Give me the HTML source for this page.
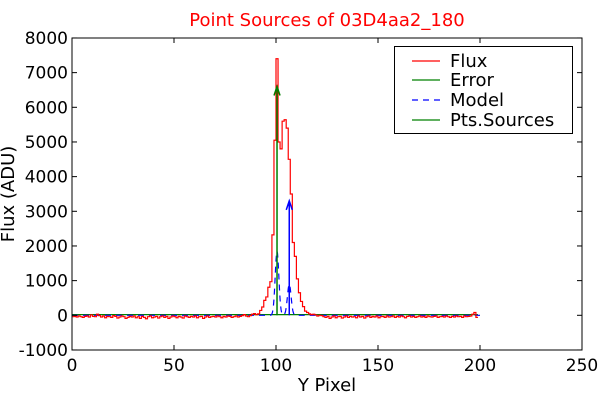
<!DOCTYPE html>
<html><head><meta charset="utf-8"><style>
body{margin:0;background:#fff}svg{display:block}
text{font-family:"DejaVu Sans","Liberation Sans",sans-serif}
</style></head><body>
<svg id="chart" width="600" height="400">
<text x="327" y="26" fill="#ff0000" font-size="18" text-anchor="middle">Point Sources of 03D4aa2_180</text>
<g id="plot"></g>
<rect x="72" y="38" width="510" height="312" fill="none" stroke="#000" stroke-width="1"/>
<g id="axes"></g>
<text x="327" y="391" font-size="18" text-anchor="middle">Y Pixel</text>
<text transform="translate(14,194) rotate(-90)" font-size="18" text-anchor="middle">Flux (ADU)</text>
<g>
<rect x="394.5" y="46.5" width="178" height="87" fill="#fff" stroke="#000"/>
<line x1="412" y1="61" x2="440" y2="61" stroke="#ff0000" stroke-width="1.2"/>
<text x="450" y="67" font-size="18">Flux</text>
<line x1="412" y1="80" x2="440" y2="80" stroke="#008000" stroke-width="1.2"/>
<text x="450" y="86" font-size="18">Error</text>
<line x1="412" y1="100" x2="440" y2="100" stroke="#0000ff" stroke-width="1.2" stroke-dasharray="6,5"/>
<text x="450" y="106" font-size="18">Model</text>
<line x1="412" y1="120" x2="440" y2="120" stroke="#008000" stroke-width="1.2"/>
<text x="450" y="126" font-size="18">Pts.Sources</text>
</g>
</svg>
<script>
const xTicks=[0,50,100,150,200,250];
const yTicks=[-1000,0,1000,2000,3000,4000,5000,6000,7000,8000];
const fluxNoise=[-40,-30,-50,-20,-40,-60,-30,-20,-50,10,-30,-40,30,-10,-50,-20,-70,-30,-40,-60,-10,-30,-80,-50,-20,-40,-90,-60,-30,-50,-20,-70,-40,-90,-30,-60,-100,-40,-20,-70,-50,-30,-80,-40,-20,-60,-30,-90,-50,-20,-40,-70,-30,-50,-80,-20,-40,-60,-30,-50,-20,-70,-40,-30,-90,-50,-20,-60,-40,-30,-50,-20,-40,-70,-30,-50,-20,-30,-60,-40,-20,-50,-30,-10,20,-20,-40,-10,30,50,20,40];
const fluxPeak=[140,240,430,530,810,970,2320,5050,7400,5000,4800,5600,5640,5400,4500,3500,2100,1700,1050,650,400,250,120,80];
const fluxTail=[40,20,30,10,-20,0,-10,-40,-60,-30,-90,-50,-20,-70,-40,-30,-80,-50,-20,-60,-30,-50,-40,-70,-20,-50,-30,-80,-40,-20,-60,-30,-50,-20,-70,-40,-30,-60,-20,-50,-40,-20,-60,-30,-50,-20,-40,-70,-30,-20,-50,-30,-60,-40,-20,-50,-30,-60,-20,-40,-50,-30,-20,-60,-40,-30,-50,-20,-40,-60,-30,-50,-20,-40,-30,-60,-20,-40,-30,-20,30,80,-60];
const flux=fluxNoise.concat(fluxPeak,fluxTail);
const sourcePos=[100.5,106.5];
const sourceFlux=[6600,3300];
const modelAmp=[1850,900];
const modelSigma=[0.9,0.9];
const errorLevel=20;
const X=v=>72+(v/250)*510, Y=v=>315.3-v*312/9000;
const NS='http://www.w3.org/2000/svg';
const plot=document.getElementById('plot'), axes=document.getElementById('axes');
function mk(tag,attrs,parent){const e=document.createElementNS(NS,tag);for(const k in attrs)e.setAttribute(k,attrs[k]);parent.appendChild(e);return e;}
xTicks.forEach(t=>{
  const g=mk('g',{},axes);
  
  
  mk('line',{x1:X(t),x2:X(t),y1:350,y2:345,stroke:'#000'},g);
  mk('line',{x1:X(t),x2:X(t),y1:38,y2:43,stroke:'#000'},g);
  const tx=mk('text',{x:X(t),y:371,'font-size':17,'text-anchor':'middle'},g);tx.textContent=t;
});
yTicks.forEach(t=>{
  const g=mk('g',{},axes);
  
  
  mk('line',{x1:72,x2:77,y1:Y(t),y2:Y(t),stroke:'#000'},g);
  mk('line',{x1:582,x2:577,y1:Y(t),y2:Y(t),stroke:'#000'},g);
  const tx=mk('text',{x:68,y:Y(t)+6,'font-size':17,'text-anchor':'end'},g);tx.textContent=t;
});
const err=mk('line',{x1:X(0),x2:X(flux.length),y1:Y(errorLevel),y2:Y(errorLevel),stroke:'#008000','stroke-width':1.2},plot);


let md='';
for(let i=0;i<=200*4;i++){const x=i/4;let v=0;for(let k=0;k<modelAmp.length;k++){const d=(x-sourcePos[k])/modelSigma[k];v+=modelAmp[k]*Math.exp(-0.5*d*d);}md+=(i?'L':'M')+X(x).toFixed(2)+' '+Y(v).toFixed(2);}
const mp=mk('path',{d:md,fill:'none',stroke:'#0000ff','stroke-width':1.2,'stroke-dasharray':'6,5'},plot);


let fd='';
flux.forEach((v,i)=>{fd+=(i?'L':'M')+X(i).toFixed(2)+' '+Y(v).toFixed(2)+'L'+X(i+1).toFixed(2)+' '+Y(v).toFixed(2);});
const fp=mk('path',{d:fd,fill:'none',stroke:'#ff0000','stroke-width':1.2},plot);


sourcePos.forEach((p,k)=>{
  const col=k===0?'#008000':'#0000ff';
  const g=mk('g',{},plot);
  
  
  const x=X(p),y=Y(sourceFlux[k]);
  mk('line',{x1:x,x2:x,y1:Y(0),y2:y,stroke:col,'stroke-width':1.5},g);
  mk('path',{d:`M${x-3} ${y+9}L${x} ${y}L${x+3} ${y+9}`,fill:'none',stroke:col,'stroke-width':1.5},g);
});
</script>
</body></html>
